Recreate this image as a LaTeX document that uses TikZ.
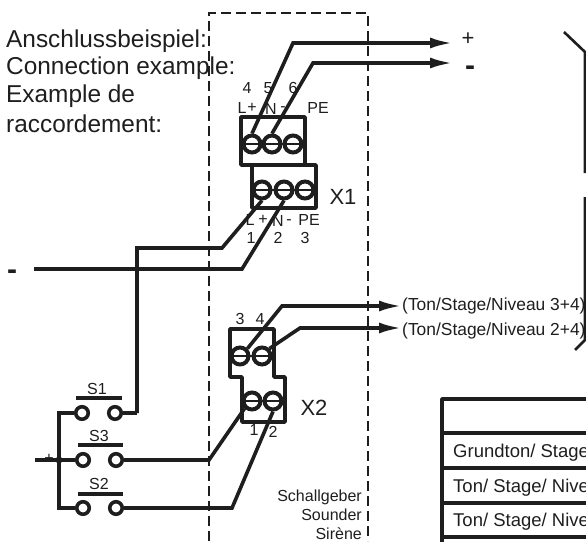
\documentclass[tikz,border=0pt]{standalone}
\usepackage{fontspec}
\setmainfont{Liberation Sans}
\usetikzlibrary{arrows.meta}
\definecolor{inkc}{HTML}{1E1E1E}
\tikzset{
  wire/.style={line width=3.6pt,color=inkc,line join=miter},
  thinwire/.style={line width=2.6pt,color=inkc},
  arrowwire/.style={wire,-{Latex[length=23pt,width=11pt]}},
  housing/.style={line width=2.6pt,color=inkc,dash pattern=on 10pt off 5pt},
  block/.style={line width=3.6pt,color=inkc,line join=round},
  screw/.style={circle,draw=inkc,line width=4pt,inner sep=0pt,minimum size=17pt},
  contact/.style={circle,draw=inkc,line width=3.6pt,fill=white,inner sep=0pt,minimum size=12.5pt},
  bigtext/.style={font=\fontsize{24.4}{26}\selectfont,color=inkc,inner sep=0pt,anchor=base west},
  termtext/.style={font=\fontsize{16}{18}\selectfont,color=inkc,inner sep=0pt},
  sidetext/.style={font=\fontsize{16}{18}\selectfont,color=inkc,inner sep=0pt,anchor=base east},
  outtext/.style={font=\fontsize{17.4}{20}\selectfont,color=inkc,inner sep=0pt,anchor=base west},
  rowtext/.style={font=\fontsize{18.5}{20}\selectfont,color=inkc,inner sep=0pt,anchor=base west},
  tagtext/.style={font=\fontsize{22}{24}\selectfont,color=inkc,inner sep=0pt},
  poltext/.style={font=\bfseries\fontsize{30}{32}\selectfont,color=inkc,inner sep=0pt}
}
\begin{document}
\begin{tikzpicture}[x=1pt,y=-1pt]
  \clip (0,0) rectangle (586,541);

  % Heading text
  \node [bigtext] (headA) at (6,47) {Anschlussbeispiel:};
  \node [bigtext] (headB) at (6,74) {Connection example:};
  \node [bigtext] (headC) at (6,102) {Example de};
  \node [bigtext] (headD) at (6,132) {raccordement:};

  % Drawing housing
  \coordinate (houseA) at (209,13);
  \coordinate (houseB) at (368,13);
  \coordinate (houseC) at (209,541);
  \coordinate (houseD) at (368,541);
  \draw [housing] (houseC) -- (houseA) -- (houseB) -- (houseD);

  % Drawing block X1
  \draw [block] (241,117) rectangle (305,165);
  \draw [block] (252,165) rectangle (316,208);
  \node [screw] (upA) at (252,144) {};
  \node [screw] (upB) at (272,144) {};
  \node [screw] (upC) at (293,144) {};
  \node [screw] (lowA) at (262,190) {};
  \node [screw] (lowB) at (284,190) {};
  \node [screw] (lowC) at (305,190) {};
  \draw [thinwire] (upA.west) -- (upC.east);
  \draw [thinwire] (lowA.west) -- (lowC.east);

  % Drawing block X2
  \draw [block] (230,329) -- (274,329) -- (274,377) -- (285,377) -- (285,422)
    -- (242,422) -- (242,377) -- (230,377) -- cycle;
  \node [screw] (xtopA) at (240,356) {};
  \node [screw] (xtopB) at (262,356) {};
  \node [screw] (xbotA) at (252,401) {};
  \node [screw] (xbotB) at (273,401) {};
  \draw [thinwire] (xtopA.west) -- (xtopB.east);
  \draw [thinwire] (xbotA.west) -- (xbotB.east);

  % Drawing outputs of X1
  \coordinate (plusBend) at (293,43);
  \coordinate (plusEnd) at (453,43);
  \coordinate (minusBend) at (313,63);
  \coordinate (minusEnd) at (453,63);
  \draw [arrowwire] (upA.north) -- (plusBend) -- (plusEnd);
  \draw [arrowwire] (upB.north) -- (minusBend) -- (minusEnd);

  % Drawing inputs of X1
  \coordinate (feedBend) at (222,248);
  \coordinate (feedDown) at (137,248);
  \coordinate (feedFoot) at (137,413);
  \coordinate (minusBendB) at (242,269);
  \coordinate (minusStart) at (34,269);
  \draw [wire] (lowA.south) -- (feedBend) -- (feedDown) -- (feedFoot);
  \draw [wire] (lowB.south) -- (minusBendB) -- (minusStart);

  % Drawing outputs of X2
  \coordinate (toneBendA) at (282,306);
  \coordinate (toneEndA) at (402,306);
  \coordinate (toneBendB) at (300,328);
  \coordinate (toneEndB) at (402,328);
  \draw [arrowwire] (xtopA.north east) -- (toneBendA) -- (toneEndA);
  \draw [arrowwire] (xtopB.north east) -- (toneBendB) -- (toneEndB);

  % Drawing buttons
  \node [contact] (oneL) at (82,413) {};
  \node [contact] (oneR) at (115,413) {};
  \node [contact] (threeL) at (83,460) {};
  \node [contact] (threeR) at (116,460) {};
  \node [contact] (twoL) at (83,508) {};
  \node [contact] (twoR) at (116,508) {};
  \draw [wire] (76,398) -- (122,398);
  \draw [wire] (78,445) -- (123,445);
  \draw [wire] (78,494) -- (123,494);

  % Drawing supply side
  \coordinate (plusStart) at (35,460);
  \coordinate (busTop) at (59,413);
  \coordinate (busBot) at (59,508);
  \coordinate (busMid) at (59,460);
  \draw [wire] (oneL.west) -- (busTop) -- (busBot) -- (twoL.west);
  \draw [wire] (plusStart) -- (threeL.west);
  \fill [inkc] (busMid) circle (3.5);

  % Drawing contact wires
  \coordinate (threeBend) at (209,460);
  \coordinate (twoBend) at (232,508);
  \draw [wire] (oneR.east) -- (feedFoot);
  \draw [wire] (threeR.east) -- (threeBend) -- (xbotA.south west);
  \draw [wire] (twoR.east) -- (twoBend) -- (xbotB.south);

  % Terminal labels of X1
  \node [termtext] (numD) at (247,88) {4};
  \node [termtext] (numE) at (268,88) {5};
  \node [termtext] (numF) at (293,88) {6};
  \node [termtext] (upL) at (242,108) {L};
  \node [termtext] (upP) at (252,108) {+};
  \node [termtext] (upN) at (271,109) {N};
  \node [termtext] (upM) at (283,109) {-};
  \node [termtext] (upE) at (318,108) {PE};
  \node [termtext] (lowL) at (250,220) {L};
  \node [termtext] (lowP) at (263,220) {+};
  \node [termtext] (lowN) at (278,221) {N};
  \node [termtext] (lowM) at (289,222) {-};
  \node [termtext] (lowE) at (309,220) {PE};
  \node [termtext] (numA) at (251,238) {1};
  \node [termtext] (numB) at (278,238) {2};
  \node [termtext] (numC) at (305,238) {3};
  \node [tagtext] (tagA) at (343,197) {X1};

  % Terminal labels of X2
  \node [termtext] (xnumC) at (240,319) {3};
  \node [termtext] (xnumD) at (260,319) {4};
  \node [termtext] (xnumA) at (254,430) {1};
  \node [termtext] (xnumB) at (273,432) {2};
  \node [tagtext] (tagB) at (314,408) {X2};

  % Button labels
  \node [termtext] (btnA) at (97,389) {S1};
  \node [termtext] (btnC) at (99,436) {S3};
  \node [termtext] (btnB) at (99,484) {S2};
  \node [termtext] (plusIn) at (49,459) {+};

  % Polarity marks
  \node [tagtext] (plusOut) at (468,39) {+};
  \node [poltext] (minusOut) at (470,71) {-};
  \node [poltext] (minusIn) at (12,275) {-};

  % Output texts
  \node [outtext] (toneA) at (402,310) {(Ton/Stage/Niveau 3+4)};
  \node [outtext] (toneB) at (402,335) {(Ton/Stage/Niveau 2+4)};

  % Housing texts
  \node [sidetext] (sideA) at (362,501) {Schallgeber};
  \node [sidetext] (sideB) at (362,520) {Sounder};
  \node [sidetext] (sideC) at (362,539) {Sirène};

  % Right brackets
  \draw [thinwire] (564,32) -- (585,52) -- (585,173);
  \draw [thinwire] (585,197) -- (585,340) -- (575,350);

  % Drawing table
  \draw [block] (590,399) -- (442,399) -- (442,545);
  \draw [block] (442,433) -- (590,433);
  \draw [block] (442,468) -- (590,468);
  \draw [block] (442,503) -- (590,503);
  \draw [block] (442,537) -- (590,537);
  \node [rowtext] (rowA) at (453,457) {Grundton/ Stage};
  \node [rowtext] (rowB) at (453,492) {Ton/ Stage/ Nive};
  \node [rowtext] (rowC) at (453,526) {Ton/ Stage/ Nive};
\end{tikzpicture}
\end{document}
